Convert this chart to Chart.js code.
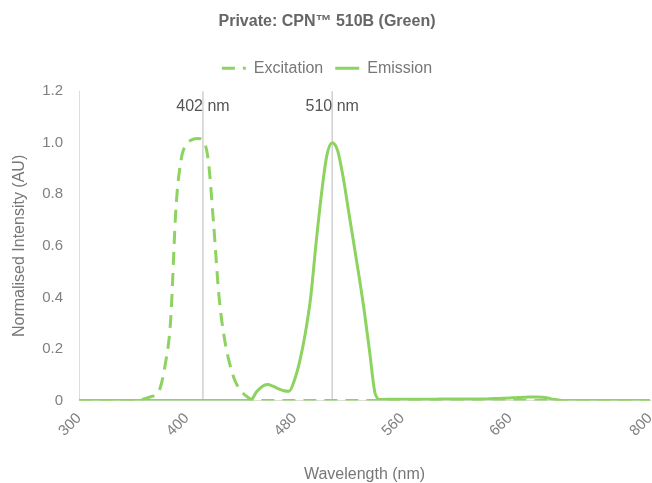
<!DOCTYPE html>
<html>
<head>
<meta charset="utf-8">
<script src="https://cdn.jsdelivr.net/npm/chart.js@4/dist/chart.umd.min.js"></script>
<style>
  html, body { margin: 0; padding: 0; background: #fff; }
  #wrap { width: 652px; height: 483px; }
</style>
</head>
<body>
<div id="wrap"><canvas id="myChart"></canvas></div>
<script>
// wavelength categories (nm), as sampled on the original chart's category axis
const wavelengths = [
  300, 305, 310, 315, 320, 325, 330, 335, 340, 345,
  350, 355, 360, 365, 370, 375, 380, 385, 390, 395,
  400, 400.5, 401, 402, 407, 411, 416, 420, 425, 429,
  434, 438, 443, 447, 452, 456, 461, 466, 470, 475,
  480, 484, 489, 493, 497, 501, 506, 510, 514, 518,
  522, 526, 530, 534, 538, 541, 545, 549, 553, 557,
  560, 565, 570, 575, 580, 585, 590, 595, 600, 605,
  610, 615, 620, 625, 630, 635, 640, 645, 650, 655,
  660, 665, 670, 675, 680, 685, 690, 695, 700, 705,
  710, 715, 720, 725, 730, 735, 740, 745, 750, 755,
  760, 765, 770, 775, 780, 790, 800
];

const excitation = [
  0, 0, 0, 0, 0, 0, 0, 0, 0, 0,
  0, 0, 0.006, 0.013, 0.02, 0.045, 0.14, 0.31, 0.75, 0.94,
  0.995, 1.012, 1.017, 1.01, 0.93, 0.68, 0.40, 0.24, 0.14, 0.075,
  0.04, 0.018, 0.004, 0, 0, 0, 0, 0, 0, 0,
  0, 0, 0, 0, 0, 0, 0, 0, 0, 0,
  0, 0, 0, 0, 0, 0, 0, 0, 0, 0,
  0, 0, 0, 0, 0, 0, 0, 0, 0, 0,
  0, 0, 0, 0, 0, 0, 0, 0, 0, 0,
  0, 0, 0, 0, 0, 0, 0, 0, 0, 0,
  0, 0, 0, 0, 0, 0, 0, 0, 0, 0,
  0, 0, 0, 0, 0, 0, 0
];

const emission = [
  0, 0, 0, 0, 0, 0, 0, 0, 0, 0,
  0, 0, 0, 0, 0, 0, 0, 0, 0, 0,
  0, 0, 0, 0, 0, 0, 0, 0, 0, 0,
  0, 0, 0.004, 0.035, 0.055, 0.062, 0.056, 0.046, 0.038, 0.036,
  0.08, 0.155, 0.26, 0.40, 0.61, 0.80, 0.95, 1.0, 0.97, 0.87,
  0.74, 0.61, 0.48, 0.34, 0.18, 0.025, 0.004, 0.005, 0.005, 0.005,
  0.005, 0.005, 0.005, 0.005, 0.005, 0.005, 0.005, 0.006, 0.006, 0.006,
  0.006, 0.006, 0.006, 0.006, 0.006, 0.006, 0.007, 0.008, 0.008, 0.009,
  0.01, 0.011, 0.012, 0.013, 0.014, 0.014, 0.013, 0.01, 0.005, 0.002,
  0, 0, 0, 0, 0, 0, 0, 0, 0, 0,
  0, 0, 0, 0, 0, 0, 0
];

const tickNm = [300, 400, 480, 560, 660, 800];
const peakNm = [402, 510];

const green = '#8cd35f';
const fontFamily = '"Liberation Sans", Arial, Helvetica, sans-serif';
Chart.defaults.font.family = fontFamily;

// grey marker lines at the peak wavelengths
const peakLines = {
  id: 'peakLines',
  beforeInit(chart) {
    // a bit more room under the legend
    const fit = chart.legend.fit;
    chart.legend.fit = function() {
      fit.call(this);
      this.height += 5;
    };
  },
  beforeDatasetsDraw(chart) {
    const { ctx, chartArea, scales: { x } } = chart;
    ctx.save();
    peakNm.forEach((nm) => {
      const px = x.getPixelForValue(wavelengths.indexOf(nm));
      ctx.strokeStyle = '#d0d0d0';
      ctx.lineWidth = 1.5;
      ctx.beginPath();
      ctx.moveTo(px, chartArea.top);
      ctx.lineTo(px, chartArea.bottom);
      ctx.stroke();
      ctx.fillStyle = '#555';
      ctx.font = '16px ' + fontFamily;
      ctx.textAlign = 'center';
      ctx.textBaseline = 'middle';
      ctx.fillText(nm + ' nm', px, chartArea.top + 15);
    });
    ctx.restore();
  }
};

const ctx = document.getElementById('myChart').getContext('2d');
const myChart = new Chart(ctx, {
  type: 'line',
  data: {
    labels: wavelengths,
    datasets: [{
      label: 'Excitation',
      data: excitation,
      borderColor: green,
      backgroundColor: green,
      borderWidth: 3,
      borderDash: [13, 8],
      pointRadius: 0,
      cubicInterpolationMode: 'monotone'
    }, {
      label: 'Emission',
      data: emission,
      borderColor: green,
      backgroundColor: green,
      borderWidth: 3,
      pointRadius: 0,
      cubicInterpolationMode: 'monotone'
    }]
  },
  options: {
    responsive: true,
    maintainAspectRatio: false,
    animation: false,
    layout: { padding: { left: 4, right: 2, top: 0, bottom: 0 } },
    plugins: {
      title: {
        display: true,
        text: 'Private: CPN™ 510B (Green)',
        color: '#666',
        font: { size: 16, weight: 'bold' },
        padding: { top: 12, bottom: 17 }
      },
      legend: {
        labels: {
          usePointStyle: true,
          pointStyle: 'line',
          pointStyleWidth: 24,
          color: '#777',
          font: { size: 16 },
          padding: 12,
          generateLabels: (chart) => {
            const items = Chart.defaults.plugins.legend.labels.generateLabels(chart);
            items.forEach((item) => {
              item.lineDash = chart.data.datasets[item.datasetIndex].borderDash || [];
            });
            return items;
          }
        }
      },
      tooltip: { enabled: false }
    },
    scales: {
      x: {
        grid: { display: false, drawTicks: false },
        border: { display: true, color: '#ddd' },
        afterFit: (scale) => { scale.paddingRight = 0; },
        ticks: {
          autoSkip: false,
          minRotation: 45,
          maxRotation: 45,
          color: '#808080',
          font: { size: 15 },
          padding: 9,
          callback: function(value, index) {
            const nm = wavelengths[index];
            return tickNm.includes(nm) ? String(nm) : null;
          }
        },
        title: {
          display: true,
          text: 'Wavelength (nm)',
          color: '#777',
          font: { size: 16, lineHeight: 1 },
          padding: { top: 18, bottom: 0 }
        }
      },
      y: {
        min: 0,
        max: 1.2,
        grid: { display: false, drawTicks: false },
        border: { display: true, color: '#ddd' },
        ticks: {
          stepSize: 0.2,
          color: '#808080',
          font: { size: 15 },
          padding: 16,
          callback: (v) => v === 0 ? '0' : v.toFixed(1)
        },
        title: {
          display: true,
          text: 'Normalised Intensity (AU)',
          color: '#777',
          font: { size: 16 },
          padding: { top: 6, bottom: -3 }
        }
      }
    }
  },
  plugins: [peakLines]
});
</script>
</body>
</html>
